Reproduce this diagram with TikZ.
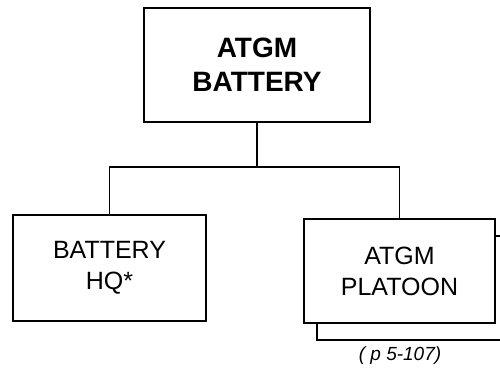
\documentclass[tikz,border=0pt]{standalone}
\usepackage{fontspec}
\setmainfont{Liberation Sans}
\usepackage{tikz}
\usetikzlibrary{positioning}

\begin{document}
\begin{tikzpicture}[
    x=1pt, y=-1pt,
    line width=1.8pt,
    unit/.style={
        draw,
        fill=white,
        align=center,
        inner sep=0pt,
        minimum width=#1
    },
    unit/.default=192pt,
    toptext/.style={
        font=\fontsize{28}{34}\selectfont\bfseries
    },
    subtext/.style={
        font=\fontsize{25}{31}\selectfont
    },
    refnote/.style={
        font=\fontsize{19}{22}\selectfont\itshape,
        inner sep=1pt
    }
]
\useasboundingbox (0,0) rectangle (500,371);

\node[unit=226pt, minimum height=114pt, toptext] (battery) at (257,65) {ATGM\\BATTERY};

\node[unit=193pt, minimum height=106pt, subtext] (hq) at (109.5,268) {BATTERY\\HQ*};

\node[unit=191pt, minimum height=104pt] (shadow) at (412.5,288) {};
\node[unit=191pt, minimum height=104pt, subtext] (platoon) at (399.5,271) {ATGM\\PLATOON};

\node[refnote] (pref) at (400,356) {( p 5-107)};

\coordinate (bus) at (257,167);
\draw (battery.south) -- (bus);
\draw (hq.north) |- (bus) -| (platoon.north);

\end{tikzpicture}
\end{document}
